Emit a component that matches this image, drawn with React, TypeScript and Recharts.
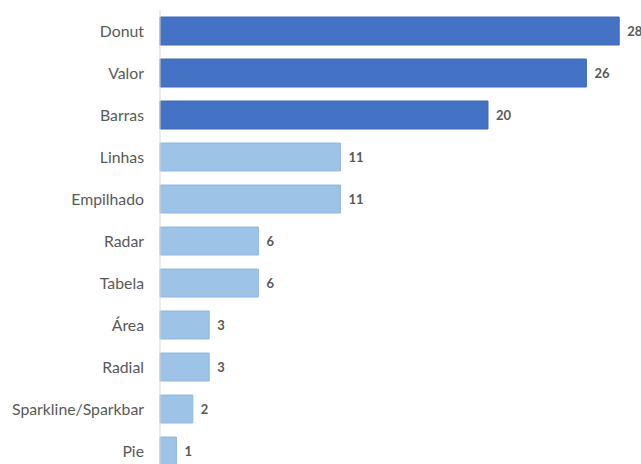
import {BarChart, Bar, XAxis, YAxis, Cell, LabelList} from "recharts";

const categories = ["Donut", "Valor", "Barras", "Linhas", "Empilhado", "Radar", "Tabela", "Área", "Radial", "Sparkline/Sparkbar", "Pie"];
const counts = [28, 26, 20, 11, 11, 6, 6, 3, 3, 2, 1];

const data = categories.map((name, i) => ({name, value: counts[i]}));

const DARK = "#4472C4";
const LIGHT = "#9DC3E6";

export default function App() {
  return (
    <div style={{position: "absolute", left: 0, top: 0, width: 641, height: 464, overflow: "hidden", background: "#fff"}}>
      <BarChart
        width={641}
        height={472}
        data={data}
        layout="vertical"
        margin={{top: 10, right: 0, bottom: 0, left: 0}}
        barSize={28}
      >
        <XAxis type="number" domain={[0, 29.33]} hide/>
        <YAxis
          type="category"
          dataKey="name"
          width={160}
          axisLine={{stroke: "#D9D9D9"}}
          tickLine={false}
          tickMargin={10}
          tick={{fill: "#595959", fontSize: 15.8, fontFamily: "Lato"}}
          interval={0}
        />
        <Bar dataKey="value" isAnimationActive={false}>
          {data.map((_, i) => (
            <Cell key={`c-${i}`} fill={i < 3 ? DARK : LIGHT} stroke={i < 3 ? "#3E68B5" : "#8FB8DE"} strokeWidth={1}/>
          ))}
          <LabelList dataKey="value" position="right" offset={8} fill="#595959" fontSize={13} fontWeight="bold" fontFamily="Lato"/>
        </Bar>
      </BarChart>
    </div>
  );
}
